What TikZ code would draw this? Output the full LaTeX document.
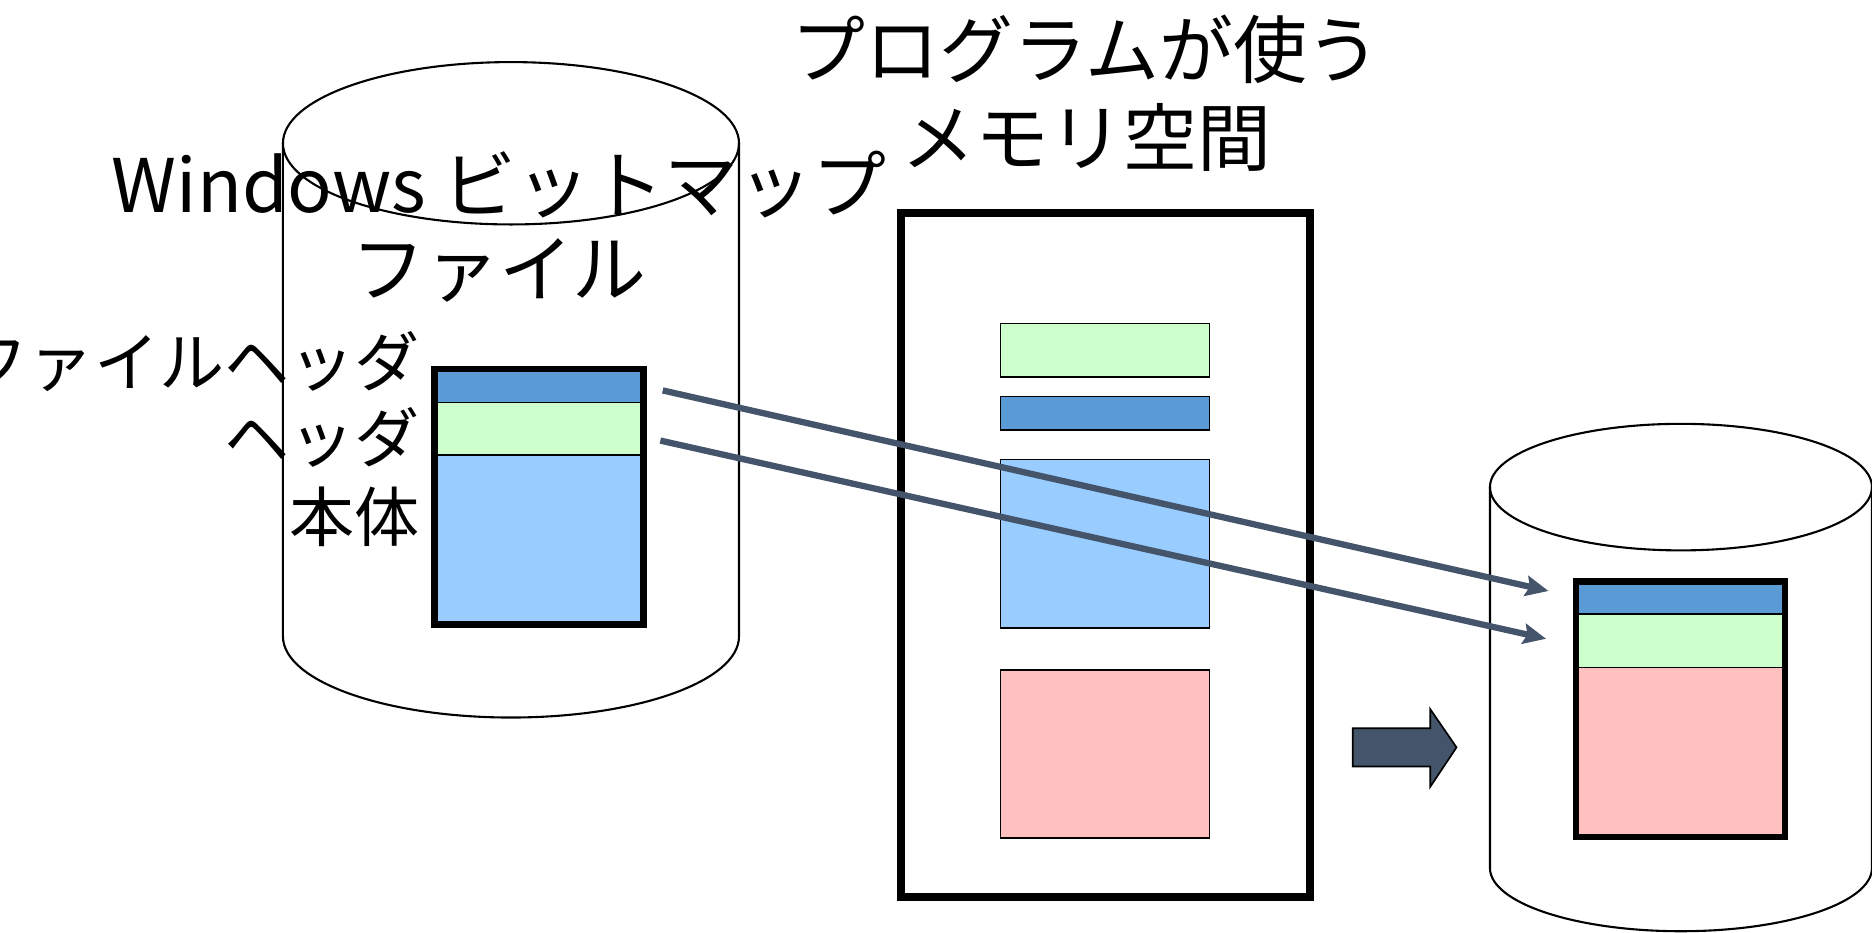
\documentclass[tikz,border=0pt]{standalone}
\usepackage{fontspec}
\setmainfont{Noto Sans CJK JP}
\usetikzlibrary{arrows.meta,positioning}

\definecolor{hdrblue}{HTML}{5B9BD5}
\definecolor{infogreen}{HTML}{CCFFCC}
\definecolor{bodyblue}{HTML}{99CCFF}
\definecolor{bodypink}{HTML}{FFC0C0}
\definecolor{slate}{HTML}{44546A}

\begin{document}
\begin{tikzpicture}[
    x=0.01cm, y=0.01cm,
    band/.style={rectangle, draw, line width=0.4pt, inner sep=0pt, outer sep=0pt, anchor=north west, minimum width=1.75cm},
    stackframe/.style={rectangle, draw, line width=1.6pt, inner sep=0pt, outer sep=0pt, anchor=north west, minimum width=1.75cm, minimum height=2.14cm},
    cyl/.style={line width=0.5pt},
    tag/.style={anchor=east, inner sep=0pt, font=\fontsize{15.5}{18}\selectfont},
    title/.style={align=center, inner sep=0pt, font=\fontsize{17.6}{20}\selectfont},
    arrow/.style={-{Stealth[length=0.19cm,width=0.17cm,inset=0.03cm]}, line width=1.5pt, draw=slate}
]
    \useasboundingbox (0,0) rectangle (1568,-781);

    % Disk with the bitmap file
    \draw[cyl] (237,-120) -- (237,-533) arc[start angle=180, end angle=360, x radius=191, y radius=68] -- (619,-120);
    \draw[cyl] (428,-120) ellipse [x radius=191, y radius=68];
    \node[title] (bmptitle) at (418,-190) {Windows ビットマップ\\ファイル};

    % File layout
    \node[band, fill=hdrblue, minimum height=0.28cm] (lfh) at (364,-309) {};
    \node[band, fill=infogreen, minimum height=0.44cm] (lhd) at (lfh.south west) {};
    \node[band, fill=bodyblue, minimum height=1.42cm] (lbody) at (lhd.south west) {};
    \node[stackframe] (lstack) at (lfh.north west) {};

    \node[tag] (tfh) at (352,-303) {ファイルヘッダ};
    \node[tag] (thd) at (352,-366) {ヘッダ};
    \node[tag] (tbody) at (352,-433) {本体};

    % Memory space
    \node[title] (memtitle) at (910,-78) {プログラムが使う\\[1pt]メモリ空間};
    \node[stackframe, line width=1.9pt, minimum width=3.42cm, minimum height=5.73cm] (mem) at (755,-178) {};
    \node[band, fill=infogreen, minimum height=0.45cm] (minfo) at (838,-271) {};
    \node[band, fill=hdrblue, minimum height=0.28cm] (mhdr) at (838,-332) {};
    \node[band, fill=bodyblue, minimum height=1.41cm] (mbody) at (838,-385) {};
    \node[band, fill=bodypink, minimum height=1.41cm] (mpix) at (838,-561) {};

    % Disk with the written file
    \draw[cyl] (1248,-408) -- (1248,-727) arc[start angle=180, end angle=360, x radius=160, y radius=53] -- (1568,-408);
    \draw[cyl] (1408,-408) ellipse [x radius=160, y radius=53];

    \node[band, fill=hdrblue, minimum height=0.27cm] (rfh) at (1320,-487) {};
    \node[band, fill=infogreen, minimum height=0.45cm] (rhd) at (rfh.south west) {};
    \node[band, fill=bodypink, minimum height=1.42cm] (rbody) at (rhd.south west) {};
    \node[stackframe] (rstack) at (rfh.north west) {};

    % Arrows
    \draw[arrow] ([xshift=0.16cm,yshift=-0.04cm]lfh.east) -- ([xshift=-0.23cm,yshift=0.055cm]rfh.west);
    \draw[arrow] ([xshift=0.14cm,yshift=-0.10cm]lhd.east) -- ([xshift=-0.25cm,yshift=0.015cm]rhd.west);
    \filldraw[fill=slate, draw=black, line width=0.4pt] (1133,-610) -- (1198,-610) -- (1198,-594) -- (1220,-626) -- (1198,-659) -- (1198,-642) -- (1133,-642) -- cycle;

\end{tikzpicture}
\end{document}
